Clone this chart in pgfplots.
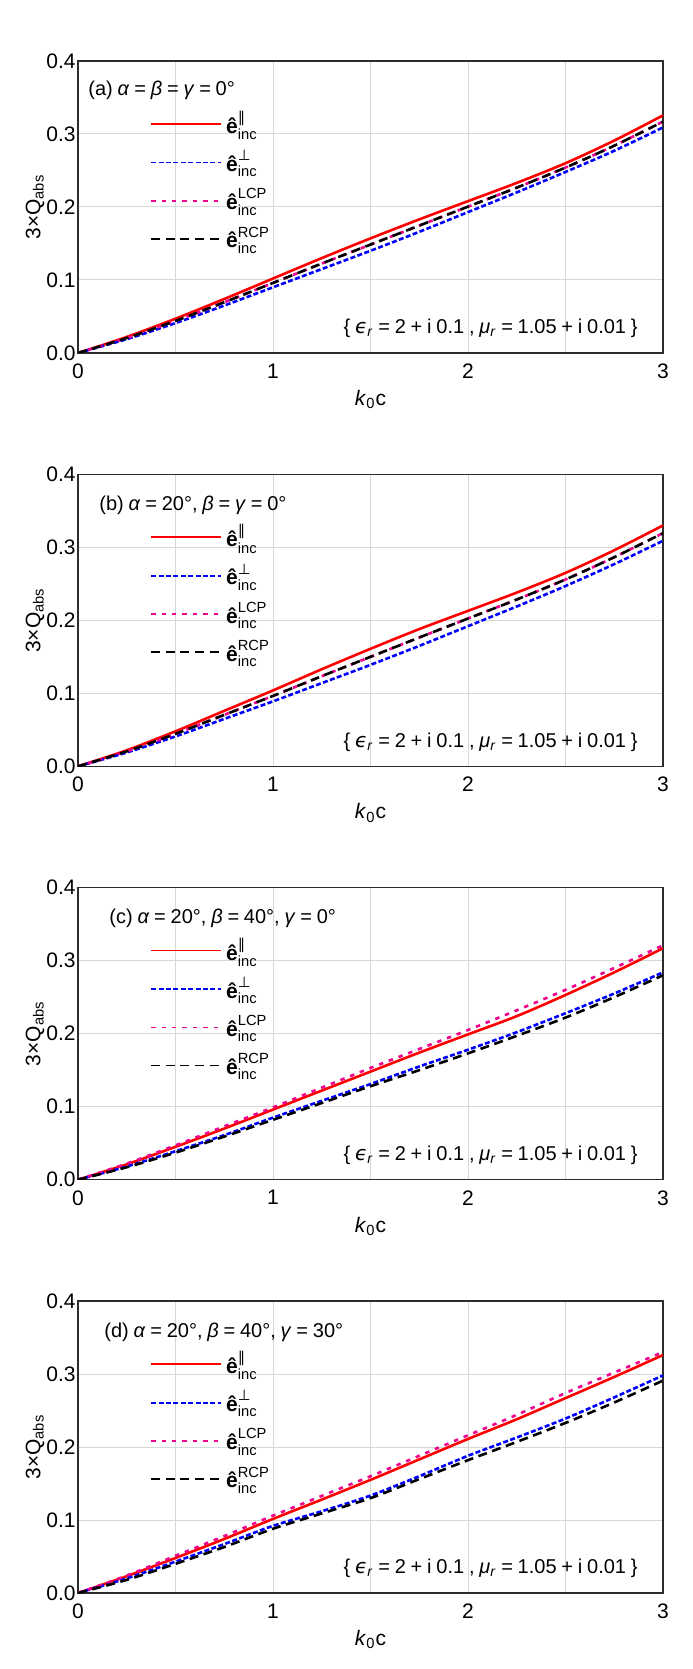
\documentclass[border=0pt]{standalone}
\usepackage{fontspec}
\setmainfont{Liberation Sans}
\newfontfamily\dejavu{DejaVu Sans}
\usepackage{amsmath}
\usepackage{pgfplots}
\pgfplotsset{compat=1.18}
\usepackage{pgfplotstable}

\definecolor{gridc}{RGB}{215,215,215}
\definecolor{framec}{RGB}{45,45,45}

\pgfplotstableread{
x r p l c
0 0 0 0 0
0.25 0.022 0.019 0.0205 0.0205
0.5 0.047 0.041 0.044 0.044
0.75 0.074 0.065 0.0695 0.0695
1 0.102 0.090 0.096 0.096
1.25 0.130 0.115 0.1225 0.1225
1.5 0.157 0.140 0.1485 0.1485
1.75 0.183 0.166 0.1745 0.1745
2 0.208 0.193 0.2005 0.2005
2.25 0.233 0.220 0.2265 0.2265
2.5 0.260 0.248 0.254 0.254
2.75 0.291 0.277 0.284 0.284
3 0.3255 0.309 0.317 0.317
}\dataA

\pgfplotstableread{
x r p l c
0 0 0 0 0
0.25 0.022 0.019 0.0205 0.0205
0.5 0.048 0.041 0.0445 0.0445
0.75 0.076 0.065 0.0705 0.0705
1 0.104 0.089 0.0965 0.0965
1.25 0.133 0.114 0.1235 0.1235
1.5 0.161 0.139 0.150 0.150
1.75 0.188 0.165 0.1765 0.1765
2 0.213 0.192 0.2025 0.2025
2.25 0.238 0.219 0.2285 0.2285
2.5 0.265 0.247 0.256 0.256
2.75 0.296 0.277 0.2865 0.2865
3 0.330 0.309 0.3195 0.3195
}\dataB

\pgfplotstableread{
x r p l c
0 0 0 0 0
0.25 0.021 0.018 0.022 0.017
0.5 0.045 0.039 0.047 0.037
0.75 0.070 0.061 0.073 0.059
1 0.096 0.085 0.099 0.082
1.25 0.122 0.108 0.126 0.105
1.5 0.148 0.131 0.153 0.128
1.75 0.174 0.155 0.179 0.150
2 0.199 0.178 0.205 0.173
2.25 0.224 0.202 0.232 0.197
2.5 0.253 0.228 0.260 0.222
2.75 0.284 0.255 0.290 0.250
3 0.317 0.284 0.321 0.280
}\dataC

\pgfplotstableread{
x r p l c
0 0 0 0 0
0.25 0.023 0.020 0.024 0.018
0.5 0.048 0.043 0.051 0.040
0.75 0.074 0.067 0.078 0.063
1 0.1015 0.092 0.106 0.088
1.25 0.128 0.112 0.133 0.109
1.5 0.155 0.1335 0.160 0.130
1.75 0.183 0.160 0.188 0.156
2 0.211 0.188 0.216 0.182
2.25 0.238 0.213 0.244 0.207
2.5 0.267 0.239 0.274 0.233
2.75 0.296 0.268 0.302 0.261
3 0.326 0.298 0.330 0.291
}\dataD

\newcommand{\lbl}[1]{$\text{\textbf{ê}}^{\text{#1}}_{\text{inc}}$}
\newcommand{\txt}{\fontsize{10}{12}\selectfont\spaceskip=0.24em plus 0.05em minus 0.05em\relax}

\pgfplotsset{
  myax/.style={
    scale only axis, width=292.5pt, height=146pt,
    anchor=north west,
    xmin=0, xmax=3, ymin=0, ymax=0.4,
    xtick={0,1,2,3}, minor xtick={0.5,1.5,2.5},
    ytick={0,0.1,0.2,0.3,0.4},
    xmajorgrids, xminorgrids, ymajorgrids,
    major grid style={gridc, line width=0.5pt},
    minor grid style={gridc, line width=0.5pt},
    major tick length=0pt, minor tick length=0pt,
    axis line style={framec, line width=0.8pt},
    /pgf/number format/assume math mode=true,
    yticklabel style={/pgf/number format/.cd, fixed, fixed zerofill, precision=1, /tikz/.cd, inner xsep=1pt},
    xticklabel style={yshift=-1.7pt},
    xlabel={\textit{k}\textsubscript{0}c},
    ylabel={3×Q\textsubscript{abs}},
    xlabel style={at={(axis description cs:0.5,-0.16)}, anchor=center},
    ylabel style={at={(axis description cs:-0.0735,0.5)}, anchor=center},
    legend style={draw=none, fill=none, inner sep=0pt,
      at={(axis description cs:0.123,0.836)}, anchor=north west,
      nodes={inner sep=1pt}, row sep=5pt, column sep=1pt},
    legend cell align=left,
    legend image code/.code={\draw[##1, line width=0.9pt] (0pt,0pt) -- (35pt,0pt);},
  },
  sr/.style={red, line width=1.3pt, smooth},
  sp/.style={blue, line width=1.3pt, smooth, dash pattern=on 2.5pt off 1.2pt},
  sl/.style={magenta, line width=1.3pt, smooth, dash pattern=on 2.2pt off 3pt},
  sc/.style={black, line width=1.3pt, smooth, dash pattern=on 4.5pt off 2.8pt},
}

\newcommand{\curves}[1]{%
  \addplot[sr] table[x=x,y=r]{#1};
  \addplot[sp] table[x=x,y=p]{#1};
  \addplot[sl] table[x=x,y=l]{#1};
  \addplot[sc] table[x=x,y=c]{#1};
  \legend{\lbl{\dejavu ∥},\lbl{\dejavu ⊥},\lbl{LCP},\lbl{RCP}}
  \node[anchor=east, inner sep=0pt, xshift=-12.5pt, yshift=12.2pt] at (rel axis cs:1,0)
    {\txt\{ {\dejavu\itshape ϵ}\textsubscript{\textit{r}} = 2 + i 0.1 , \textit{μ}\textsubscript{\textit{r}} = 1.05 + i 0.01 \}};
}

\begin{document}
\fontsize{10.5}{12.6}\selectfont
\begin{tikzpicture}
\path[use as bounding box] (-39pt,30.5pt) rectangle (307pt,-804pt);

\begin{axis}[myax, at={(0pt,0pt)}]
\curves{\dataA}
\node[anchor=west, inner sep=0pt, xshift=5pt, yshift=-14.5pt] at (rel axis cs:0,1)
  {\txt (a) \textit{α} = \textit{β} = \textit{γ} = 0°};
\end{axis}

\begin{axis}[myax, at={(0pt,-206.67pt)}]
\curves{\dataB}
\node[anchor=west, inner sep=0pt, xshift=10.5pt, yshift=-15.5pt] at (rel axis cs:0,1)
  {\txt (b) \textit{α} = 20°, \textit{β} = \textit{γ} = 0°};
\end{axis}

\begin{axis}[myax, at={(0pt,-413.33pt)}]
\curves{\dataC}
\node[anchor=west, inner sep=0pt, xshift=15.5pt, yshift=-15.5pt] at (rel axis cs:0,1)
  {\txt (c) \textit{α} = 20°, \textit{β} = 40°, \textit{γ} = 0°};
\end{axis}

\begin{axis}[myax, at={(0pt,-620pt)}]
\curves{\dataD}
\node[anchor=west, inner sep=0pt, xshift=13pt, yshift=-15.5pt] at (rel axis cs:0,1)
  {\txt (d) \textit{α} = 20°, \textit{β} = 40°, \textit{γ} = 30°};
\end{axis}
\end{tikzpicture}
\end{document}
